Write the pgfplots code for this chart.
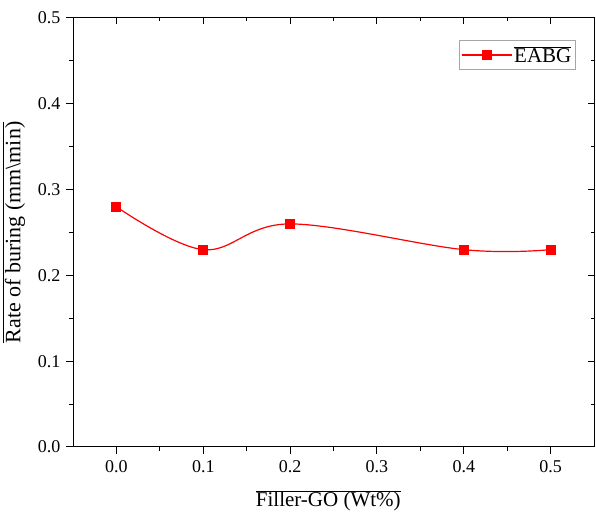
\documentclass[border=0pt]{standalone}
\usepackage{fontspec}
\setmainfont{Liberation Serif}
\usepackage{pgfplots}
\pgfplotsset{compat=1.18}
\begin{document}
\begin{tikzpicture}
\begin{axis}[
  name=ax,
  scale only axis,
  width=521pt, height=429pt,
  xmin=-0.05, xmax=0.55, ymin=0, ymax=0.5,
  xtick={0,0.1,0.2,0.3,0.4,0.5},
  ytick={0,0.1,0.2,0.3,0.4,0.5},
  minor x tick num=1, minor y tick num=1,
  xtick pos=bottom, ytick pos=left,
  tick align=outside,
  major tick length=7pt, minor tick length=4pt,
  every tick/.style={black, line width=1pt},
  axis line style={line width=1pt},
  /pgf/number format/assume math mode=true,
  xticklabel={\pgfmathprintnumber[fixed,fixed zerofill,precision=1]{\tick}},
  yticklabel={\pgfmathprintnumber[fixed,fixed zerofill,precision=1]{\tick}},
  ticklabel style={font=\rmfamily\fontsize{18}{20}\selectfont},
  xticklabel style={yshift=-3pt},
  yticklabel style={xshift=-2pt},
  xlabel={$\overline{\mbox{Filler-GO (Wt\%)}}$},
  ylabel={$\overline{\mbox{Rate of buring (mm\textbackslash min)}}$},
  xlabel style={font=\fontsize{21}{24}\selectfont, at={(axis description cs:0.49,-0.093)}, anchor=north},
  ylabel style={font=\fontsize{22}{24}\selectfont, at={(axis description cs:-0.085,0.5)}, anchor=south, rotate=0},
  legend style={at={(axis description cs:0.965,0.949)}, anchor=north east,
    draw=gray!70, line width=0.8pt, font=\fontsize{21}{24}\selectfont,
    inner xsep=2pt, inner ysep=4pt, row sep=0pt},
  legend image code/.code={
    \draw[#1, line width=1.2pt] (0pt,0pt) -- (50pt,0pt);
    \draw[#1, mark repeat=2, mark phase=2] plot coordinates {(0pt,0pt) (25pt,0pt) (50pt,0pt)};
  },
]
\addplot[red, line width=1.2pt, smooth, tension=0.6, mark=square*, mark size=4.5pt, mark options={solid, fill=red, line width=0pt}]
  coordinates {(0,0.28) (0.1,0.23) (0.2,0.26) (0.4,0.23) (0.5,0.23)};
\addlegendentry{$\overline{\mbox{EABG}}$}
\end{axis}
\begin{axis}[
  scale only axis,
  width=521pt, height=429pt,
  xmin=-0.05, xmax=0.55, ymin=0, ymax=0.5,
  xtick={0,0.1,0.2,0.3,0.4,0.5},
  ytick={0,0.1,0.2,0.3,0.4,0.5},
  minor x tick num=1, minor y tick num=1,
  xtick pos=top, ytick pos=right,
  tick align=inside,
  major tick length=6pt, minor tick length=3.5pt,
  every tick/.style={black, line width=1pt},
  axis line style={line width=1pt},
  xticklabels={}, yticklabels={},
]
\end{axis}
\pgfresetboundingbox
\path ([shift={(-73pt,-65pt)}]ax.south west) rectangle ([shift={(2pt,18pt)}]ax.north east);
\end{tikzpicture}
\end{document}
